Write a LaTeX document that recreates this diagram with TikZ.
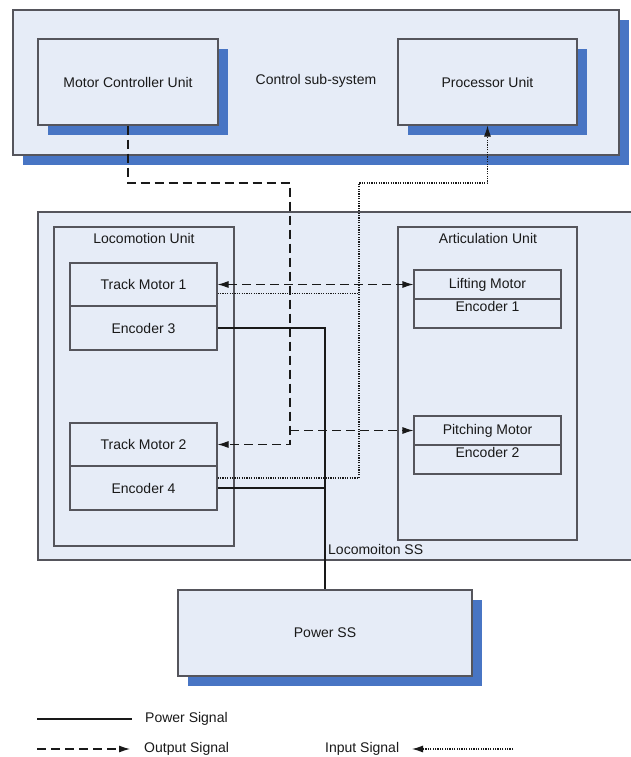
\documentclass[tikz,border=0pt]{standalone}
\usepackage{fontspec}
\setmainfont{Liberation Sans}
\usetikzlibrary{arrows.meta,shadows,calc}
\definecolor{boxfill}{RGB}{230,236,247}
\definecolor{shadowblue}{RGB}{72,117,196}
\definecolor{edgegray}{RGB}{85,85,92}
\definecolor{inkdark}{RGB}{25,25,25}
\tikzset{
  txt/.style={font=\fontsize{14}{16}\selectfont, text=inkdark, inner sep=0pt},
  box/.style={draw=edgegray, fill=boxfill, line width=1.1pt, inner sep=0pt, txt},
  shadowed/.style={drop shadow={shadow xshift=10pt, shadow yshift=-10pt, fill=shadowblue, opacity=1}},
  sig/.style={line width=1.1pt, draw=inkdark},
  pwrsig/.style={sig},
  outsig/.style={sig, dash pattern=on 9pt off 5pt},
  insig/.style={sig, dash pattern=on 1.2pt off 1.2pt}
}
\begin{document}
\begin{tikzpicture}[x=1pt,y=-1pt, >={Latex[length=11pt,width=7pt]}]
\useasboundingbox (0,0) rectangle (631,757);
\fill[white] (0,0) rectangle (631,757);
\begin{scope}
\clip (0,0) rectangle (631,757);

% control sub-system
\node[box, shadowed, minimum width=606pt, minimum height=145pt] (ctrl) at (316,82.5) {};
\node[txt] (ctrlt) at (316,81) {Control sub-system};
\node[box, shadowed, minimum width=180pt, minimum height=86pt] (mcu) at (128,82) {Motor Controller Unit};
\node[box, shadowed, minimum width=179pt, minimum height=86pt] (proc) at (487.5,82) {Processor Unit};

% locomotion sub-system (runs off the right edge)
\node[box, minimum width=612pt, minimum height=348pt] (lss) at (344,386) {};
\node[txt, anchor=west] (lsst) at (328,549) {Locomoiton SS};

\node[box, minimum width=180pt, minimum height=319pt] (locoU) at (144,386.5) {};
\node[txt] (locoUt) at (144,238) {Locomotion Unit};
\node[box, minimum width=179pt, minimum height=313pt] (artU) at (487.5,383.5) {};
\node[txt] (artUt) at (488,238) {Articulation Unit};

% motors and encoders
\node[box, minimum width=147pt, minimum height=43pt] (tm1) at (143.5,284.5) {Track Motor 1};
\node[box, minimum width=147pt, minimum height=44pt] (enc3) at (143.5,328) {Encoder 3};
\node[box, minimum width=147pt, minimum height=43pt] (tm2) at (143.5,444.5) {Track Motor 2};
\node[box, minimum width=147pt, minimum height=44pt] (enc4) at (143.5,488) {Encoder 4};

\node[box, minimum width=147pt, minimum height=29pt] (lift) at (487.5,284.5) {Lifting Motor};
\node[box, minimum width=147pt, minimum height=29pt] (enc1) at (487.5,313.5) {};
\node[txt] (enc1t) at (487.5,306.5) {Encoder 1};
\node[box, minimum width=147pt, minimum height=29pt] (pitch) at (487.5,430.5) {Pitching Motor};
\node[box, minimum width=147pt, minimum height=29pt] (enc2) at (487.5,459.5) {};
\node[txt] (enc2t) at (487.5,452) {Encoder 2};

% power sub-system
\node[box, shadowed, minimum width=294pt, minimum height=86pt] (power) at (325,633) {Power SS};

% power lines
\draw[pwrsig] (enc3.east) -| (power.north);
\draw[pwrsig] (enc4.east) -- (enc4.east -| power.north);

% output signals
\coordinate (otop) at (290,183);
\draw[outsig, ->] (mcu.south) |- (otop) |- (tm2.east);
\draw[outsig, ->] (otop |- pitch.west) -- (pitch.west);
\draw[outsig, <->] (tm1.east) -- (lift.west);

% input signals
\coordinate (itop) at (359,183);
\coordinate (ia) at ($(enc4.east)+(0,-10)$);
\coordinate (ib) at ($(tm1.east)+(0,9.3)$);
\draw[insig, ->] (ia) -| (itop) -| (proc.south);
\draw[insig] (ib) -- (ib -| itop);

% legend
\coordinate (la) at (37,719);
\coordinate (lb) at (132,719);
\draw[pwrsig] (la) -- (lb);
\node[txt, anchor=west] (lpwr) at (145,719) {Power Signal};
\coordinate (lc) at (37,749);
\coordinate (ld) at (130,749);
\draw[outsig, ->] (lc) -- (ld);
\node[txt, anchor=west] (lout) at (144,749) {Output Signal};
\node[txt, anchor=west] (lin) at (325,749) {Input Signal};
\coordinate (le) at (513,749);
\coordinate (lf) at (412,749);
\draw[insig, ->] (le) -- (lf);
\end{scope}
\end{tikzpicture}
\end{document}
